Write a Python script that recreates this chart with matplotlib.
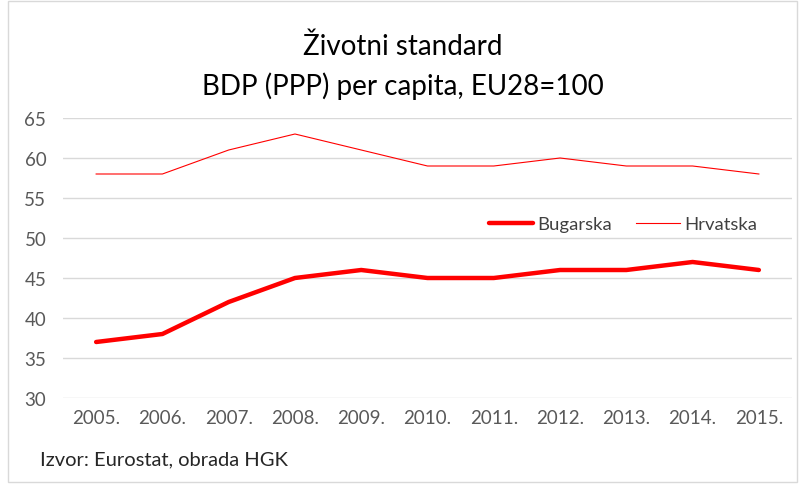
import matplotlib.pyplot as plt
from matplotlib.patches import Rectangle

godine = ["2005.", "2006.", "2007.", "2008.", "2009.", "2010.",
          "2011.", "2012.", "2013.", "2014.", "2015."]
bugarska = [37, 38, 42, 45, 46, 45, 45, 46, 46, 47, 46]
hrvatska = [58, 58, 61, 63, 61, 59, 59, 60, 59, 59, 58]

plt.rcParams['font.family'] = ['Lato', 'DejaVu Sans']

fig = plt.figure(figsize=(8.05, 4.85), dpi=100)
ax = fig.add_axes([63/805, 1-399/485, (792-63)/805, 280/485])

x = list(range(len(godine)))
ax.plot(x, bugarska, color='#FF0000', lw=3.2, label='Bugarska', solid_capstyle='round')
ax.plot(x, hrvatska, color='#FF0000', lw=0.8, label='Hrvatska')

ax.set_xlim(-0.5, len(godine) - 0.5)
ax.set_ylim(30, 65)
ax.set_yticks(range(30, 66, 5))
ax.set_xticks(x)
ax.set_xticklabels(godine)
ax.grid(axis='y', color='#D9D9D9', lw=1)
ax.set_axisbelow(True)
for s in ax.spines.values():
    s.set_visible(False)
ax.tick_params(length=0, labelsize=13.5, colors='#595959', pad=8)
ax.tick_params(axis='y', pad=12)

ax.legend(loc='center', bbox_to_anchor=(0.768, 0.621), ncol=2, frameon=False,
          fontsize=13.3, labelcolor='#404040', handlelength=2.4, handletextpad=0.2,
          columnspacing=1.3)

fig.text(0.5, 1-47/485, "Životni standard", ha='center', va='center', fontsize=20, color='#000000')
fig.text(0.5, 1-86/485, "BDP (PPP) per capita, EU28=100", ha='center', va='center', fontsize=20, color='#000000')
fig.text(40/805, 1-460/485, "Izvor: Eurostat, obrada HGK", ha='left', va='center', fontsize=14.5, color='#262626')

fig.patches.append(Rectangle((8/805, 2/485), 1-16/805, 1-4/485, transform=fig.transFigure,
                             fill=False, edgecolor='#D9D9D9', lw=1))

fig.savefig('out.png', dpi=100)
